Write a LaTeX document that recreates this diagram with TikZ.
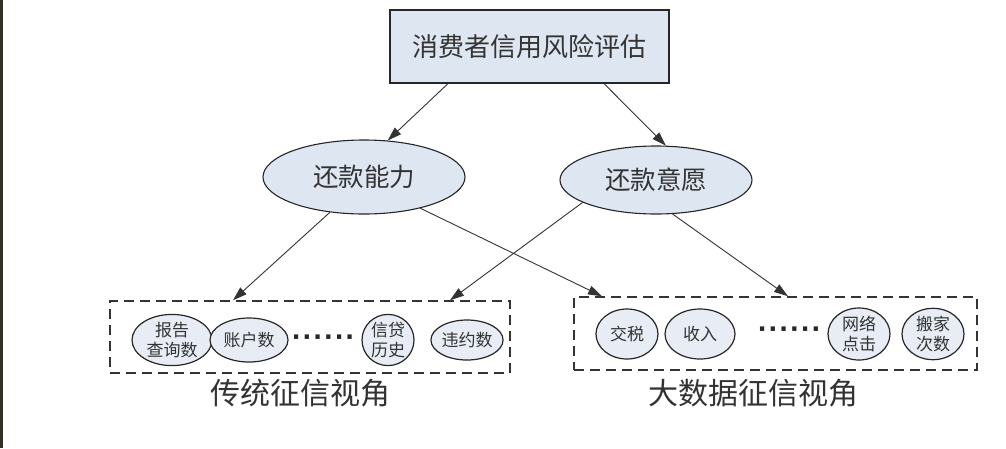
\documentclass[tikz,border=0pt]{standalone}
\usepackage{fontspec}
\setmainfont{Noto Sans CJK SC}
\newfontfamily\dotfont{DejaVu Sans}
\usetikzlibrary{shapes.geometric,arrows.meta,calc}
\definecolor{txt}{HTML}{333333}
\definecolor{efill}{HTML}{DEE6F2}
\definecolor{sfill}{HTML}{E8EDF5}
\newcommand{\sixdots}{·\kern1.6pt·\kern1.6pt·\kern1.6pt·\kern1.6pt·\kern1.6pt·}
\tikzset{
  topbox/.style={draw=black!85,line width=1.2pt,fill=efill,minimum width=279pt,minimum height=73pt,inner sep=0pt,text=txt,font=\fontsize{26}{30}\selectfont},
  bigell/.style={ellipse,draw=black!85,line width=1.1pt,fill=efill,inner sep=0pt,text=txt,font=\fontsize{25.5}{30}\selectfont},
  smallell/.style={ellipse,draw=black!85,line width=1.2pt,fill=sfill,inner sep=0pt,text=txt,align=center,font=\fontsize{17}{20.5}\selectfont},
  dashbox/.style={draw=black!80,line width=1.5pt,dash pattern=on 10pt off 6pt,inner sep=0pt},
  conn/.style={draw=black!80,line width=0.9pt,-{Triangle[length=14pt,width=9pt]}},
  dotsnode/.style={inner sep=0pt,text=black!85,font=\dotfont\bfseries\fontsize{24}{26}\selectfont},
  viewlabel/.style={inner sep=0pt,text=txt,font=\fontsize{30}{34}\selectfont}
}
\begin{document}
\begin{tikzpicture}[x=1pt,y=-1pt]
\useasboundingbox (0,0) rectangle (1006,448);
\fill[white] (0,0) rectangle (1006,448);
\fill[black!85!olive] (0,0) rectangle (3,448);

\node[topbox] (top) at (529.5,46.5) {消费者信用风险评估};
\node[bigell,minimum width=202pt,minimum height=74pt] (e1) at (364,177) {还款能力};
\node[bigell,minimum width=192pt,minimum height=68pt] (e2) at (656,180) {还款意愿};

\node[dashbox,minimum width=400pt,minimum height=72pt] (lbox) at (310,337) {};
\node[dashbox,minimum width=403pt,minimum height=73pt] (rbox) at (775.5,333.5) {};

\node[smallell,minimum width=80pt,minimum height=46pt] (l1) at (172,340) {报告\\查询数};
\node[smallell,minimum width=78pt,minimum height=44pt] (l2) at (249,340) {账户数};
\node[dotsnode] (ld) at (323,340) {\sixdots};
\node[smallell,minimum width=52pt,minimum height=48pt] (l3) at (388,340) {信贷\\历史};
\node[smallell,minimum width=64pt,minimum height=40pt] (l4) at (467,340) {违约数};

\node[smallell,minimum width=62pt,minimum height=50pt] (r1) at (627,334) {交税};
\node[smallell,minimum width=70pt,minimum height=50pt] (r2) at (700,334) {收入};
\node[dotsnode] (rd) at (789,332) {\sixdots};
\node[smallell,minimum width=62pt,minimum height=52pt] (r3) at (859,334) {网络\\点击};
\node[smallell,minimum width=62pt,minimum height=50pt] (r4) at (933,334) {搬家\\次数};

\node[viewlabel] (lt) at (300,393) {传统征信视角};
\node[viewlabel] (rt) at (753,393) {大数据征信视角};

\draw[conn] ($(top.south)+(-81.5,0)$) -- (e1.57);
\draw[conn] ($(top.south)+(74.5,0)$) -- (e2.74);
\draw[conn] (e1.226) -- ($(lbox.north)+(-77,0)$);
\draw[conn] (e1.-29) -- ($(rbox.north)+(-173.5,0)$);
\draw[conn] (e2.197) -- ($(lbox.north)+(140,0)$);
\draw[conn] (e2.-64) -- ($(rbox.north)+(12.5,0)$);
\end{tikzpicture}
\end{document}
